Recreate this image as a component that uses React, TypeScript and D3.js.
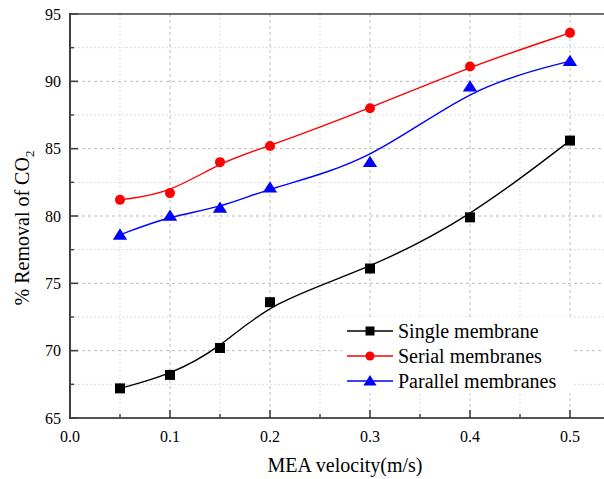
import React from "react";
import * as d3 from "d3";

const velocities = [0.05, 0.1, 0.15, 0.2, 0.3, 0.4, 0.5];
const singleMembrane = [67.2, 68.2, 70.2, 73.6, 76.1, 79.9, 85.6];
const serialMembranes = [81.2, 81.7, 84.0, 85.2, 88.0, 91.1, 93.6];
const parallelMembranes = [78.6, 80.0, 80.6, 82.1, 84.0, 89.6, 91.5];
const xTicks = [0, 0.1, 0.2, 0.3, 0.4, 0.5];
const xMinor = [0.05, 0.15, 0.25, 0.35, 0.45, 0.55];
const yTicks = [65, 70, 75, 80, 85, 90, 95];
const yMinor = [67.5, 72.5, 77.5, 82.5, 87.5, 92.5];
const seriesNames = ["Single membrane", "Serial membranes", "Parallel membranes"];
const seriesColors = ["#000000", "#ff0000", "#0000ff"];
const seriesShapes = ["square", "circle", "triangle"];

const W = 604;
const H = 479;
const L = 70, R = 620, T = 14, B = 418;
const FONT = "Liberation Serif, Times New Roman, serif";
const ts: React.CSSProperties = { fontFamily: FONT };

function Marker({ shape, x, y, color, s }: { shape: string; x: number; y: number; color: string; s: number }) {
  if (shape === "square") return <rect x={x - s / 2} y={y - s / 2} width={s} height={s} fill={color} />;
  if (shape === "circle") return <circle cx={x} cy={y} r={s / 2} fill={color} />;
  const h = s * 0.9;
  return <path d={`M${x},${y - h * 0.6}L${x + s * 0.6},${y + h * 0.45}L${x - s * 0.6},${y + h * 0.45}Z`} fill={color} />;
}

export default function App() {
  const x = d3.scaleLinear().domain([0, 0.55]).range([L, R]);
  const y = d3.scaleLinear().domain([65, 95]).range([B, T]);
  const data = [singleMembrane, serialMembranes, parallelMembranes];
  const line = d3
    .line<number>()
    .x((_, i) => x(velocities[i]))
    .y((d) => y(d))
    .curve(d3.curveBasis);

  const legendY = [331, 356, 381];
  const markerSizes = [10, 10, 12];

  return (
    <svg width={W} height={H} style={{ position: "absolute", left: 0, top: 0, background: "#fff", fontFamily: FONT }}>
      <rect x={0} y={0} width={W} height={H} fill="#fff" />
      {/* minor grid */}
      {xMinor.map((v) => (
        <line key={"xm" + v} x1={x(v)} x2={x(v)} y1={T} y2={B} stroke="#dcdcdc" strokeWidth={1} strokeDasharray="2,2" />
      ))}
      {yMinor.map((v) => (
        <line key={"ym" + v} x1={L} x2={R} y1={y(v)} y2={y(v)} stroke="#dcdcdc" strokeWidth={1} strokeDasharray="2,2" />
      ))}
      {/* major grid */}
      {xTicks.slice(1).map((v) => (
        <line key={"xg" + v} x1={x(v)} x2={x(v)} y1={T} y2={B} stroke="#bdbdbd" strokeWidth={1} strokeDasharray="3,3" />
      ))}
      {yTicks.slice(1, -1).map((v) => (
        <line key={"yg" + v} x1={L} x2={R} y1={y(v)} y2={y(v)} stroke="#bdbdbd" strokeWidth={1} strokeDasharray="3,3" />
      ))}

      {/* series */}
      {data.map((s, k) => (
        <g key={"s" + k}>
          <path d={line(s) || ""} fill="none" stroke={seriesColors[k]} strokeWidth={1.4} />
          {s.map((v, i) => (
            <Marker key={i} shape={seriesShapes[k]} x={x(velocities[i])} y={y(v)} color={seriesColors[k]} s={markerSizes[k]} />
          ))}
        </g>
      ))}

      {/* axes */}
      <line x1={L} x2={R} y1={T} y2={T} stroke="#6e6e6e" strokeWidth={2} />
      <line x1={L} x2={L} y1={T - 1} y2={B + 1} stroke="#404040" strokeWidth={2} />
      <line x1={L - 1} x2={R} y1={B} y2={B} stroke="#1a1a1a" strokeWidth={1.6} />
      {yTicks.map((v) => (
        <g key={"yt" + v}>
          <line x1={L} x2={L + 8} y1={y(v)} y2={y(v)} stroke="#404040" strokeWidth={1.6} />
          <text x={61} y={y(v) + 5.5} textAnchor="end" fontSize={16} fill="#000" style={ts}>
            {v}
          </text>
        </g>
      ))}
      {yMinor.map((v) => (
        <line key={"ytm" + v} x1={L} x2={L + 4} y1={y(v)} y2={y(v)} stroke="#404040" strokeWidth={1.4} />
      ))}
      {xTicks.map((v) => (
        <g key={"xt" + v}>
          <line x1={x(v)} x2={x(v)} y1={B} y2={B - 8} stroke="#404040" strokeWidth={1.6} />
          <text x={x(v)} y={442} textAnchor="middle" fontSize={16} fill="#000" style={ts}>
            {d3.format(".1f")(v)}
          </text>
        </g>
      ))}
      {xMinor.map((v) => (
        <line key={"xtm" + v} x1={x(v)} x2={x(v)} y1={B} y2={B - 4} stroke="#404040" strokeWidth={1.4} />
      ))}

      {/* axis titles */}
      <text x={345} y={472} textAnchor="middle" fontSize={20} fill="#000" style={ts}>
        MEA velocity(m/s)
      </text>
      <text transform="translate(29,228) rotate(-90)" textAnchor="middle" fontSize={20} fill="#000" style={ts}>
        % Removal of CO
        <tspan fontSize={13} dy={5}>2</tspan>
      </text>

      {/* legend */}
      <rect x={342} y={317} width={230} height={76} fill="#fff" />
      {seriesNames.map((n, k) => (
        <g key={"lg" + k}>
          <line x1={347} x2={393} y1={legendY[k]} y2={legendY[k]} stroke={seriesColors[k]} strokeWidth={1.4} />
          <Marker shape={seriesShapes[k]} x={370} y={legendY[k]} color={seriesColors[k]} s={k === 2 ? 11 : 9} />
          <text x={398} y={legendY[k] + 6.5} fontSize={20} fill="#000" style={ts}>
            {n}
          </text>
        </g>
      ))}
    </svg>
  );
}
